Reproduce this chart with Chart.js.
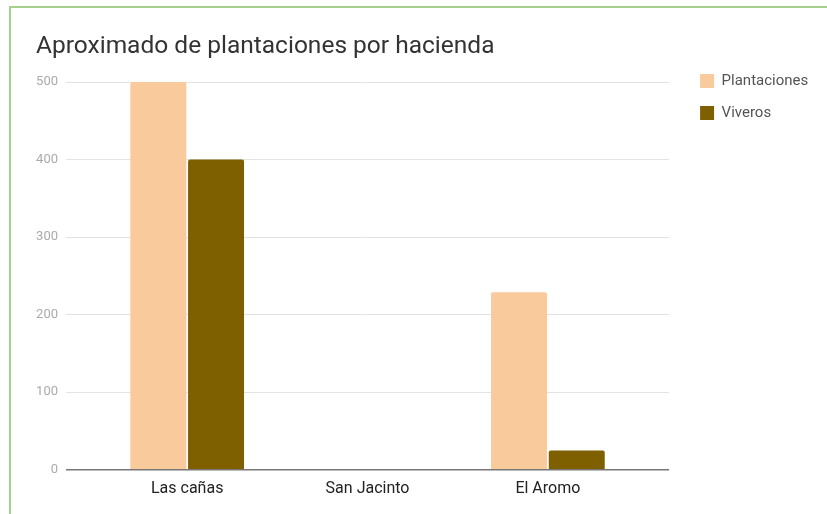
<!DOCTYPE html>
<html>
<head>
<meta charset="utf-8">
<script src="https://cdn.jsdelivr.net/npm/chart.js@4"></script>
<style>
  html, body { margin: 0; padding: 0; background: #fff; }
  #wrap { position: absolute; left: 0; top: 0; width: 827px; height: 514px; }
  #frame { position: absolute; left: 9px; top: 6px; width: 818px; height: 508px;
           border-left: 2px solid #a8d08d; border-top: 2px solid #a8d08d; }
  #c { position: absolute; left: 0; top: 0; }
</style>
</head>
<body>
<div id="wrap">
  <div id="frame"></div>
  <canvas id="c" width="827" height="514"></canvas>
</div>
<script>
const title = 'Aproximado de plantaciones por hacienda';
const categories = ['Las cañas', 'San Jacinto', 'El Aromo'];
const plantaciones = [500, 0, 229];
const viveros = [400, 0, 25];
const yTicks = [0, 100, 200, 300, 400, 500];

const toPoints = arr => arr.map((v, i) => ({ x: i, y: v }));

new Chart(document.getElementById('c'), {
  type: 'bar',
  data: {
    datasets: [
      { label: 'Plantaciones', data: toPoints(plantaciones), backgroundColor: '#f9cb9c', borderRadius: 2, borderSkipped: 'bottom' },
      { label: 'Viveros', data: toPoints(viveros), backgroundColor: '#7f6000', borderRadius: 2, borderSkipped: 'bottom' }
    ]
  },
  options: {
    responsive: false,
    animation: false,
    events: [],
    layout: { padding: { left: 36, right: 14.5, top: 12, bottom: 6 } },
    datasets: { bar: { categoryPercentage: 0.64, barPercentage: 0.97 } },
    scales: {
      x: {
        type: 'linear',
        offset: false,
        min: -0.672,
        max: 2.672,
        afterBuildTicks: s => { s.ticks = categories.map((_, i) => ({ value: i })); },
        grid: { display: false, drawTicks: false },
        border: { display: false },
        ticks: {
          callback: v => categories[v],
          color: '#222',
          font: { family: 'Roboto', size: 16 },
          padding: 9.5,
          autoSkip: false,
          maxRotation: 0
        }
      },
      y: {
        min: 0,
        max: 500,
        afterBuildTicks: s => { s.ticks = yTicks.map(v => ({ value: v })); },
        afterFit: s => { s.width = 30; },
        grid: {
          drawTicks: false,
          color: c => c.tick && c.tick.value === 0 ? '#777' : '#e3e3e3',
          lineWidth: c => c.tick && c.tick.value === 0 ? 1.5 : 1
        },
        border: { display: false },
        ticks: {
          color: '#aaa',
          font: { family: 'Roboto', size: 13 },
          padding: 8
        }
      },
      gap: {
        type: 'linear',
        position: 'right',
        display: true,
        afterFit: s => { s.width = 14; },
        grid: { display: false, drawTicks: false },
        border: { display: false },
        ticks: { display: false }
      }
    },
    plugins: {
      title: {
        display: true,
        text: title,
        align: 'start',
        color: '#333',
        font: { family: 'Roboto', size: 24.5, weight: 'normal' },
        padding: { top: 20, bottom: 20.6 }
      },
      legend: {
        position: 'right',
        align: 'start',
        title: { display: true, text: ' ', font: { size: 12 }, padding: { top: 0, bottom: 30 } },
        labels: {
          boxWidth: 14,
          boxHeight: 14,
          padding: 17,
          color: '#555',
          font: { family: 'Roboto', size: 15 }
        }
      },
      tooltip: { enabled: false }
    }
  }
});
</script>
</body>
</html>
